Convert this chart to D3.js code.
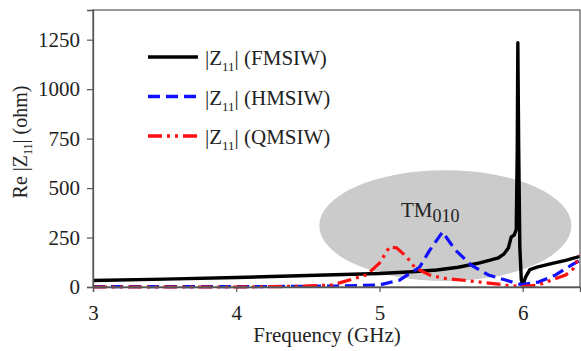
<!DOCTYPE html>
<html>
<head>
<meta charset="utf-8">
<script src="https://cdn.jsdelivr.net/npm/d3@7"></script>
<style>
  html, body { margin: 0; padding: 0; background: #fff; }
  svg { display: block; }
  svg text { font-family: "Liberation Serif", "Times New Roman", Tinos, "DejaVu Serif", serif !important; fill: #222; }
</style>
</head>
<body>
<svg id="chart" width="581" height="351"></svg>
<script>
// Frequency (GHz) and Re|Z11| (ohm) for the three cavity variants
const fmsiwFreq = [3.0, 3.5, 4.0, 4.5, 5.0, 5.2, 5.4, 5.55, 5.7, 5.78, 5.83, 5.87, 5.9, 5.92, 5.94, 5.955, 5.962, 5.966, 5.972, 5.98, 5.99, 6.0, 6.02, 6.05, 6.1, 6.2, 6.3, 6.4];
const fmsiwZ    = [33, 40, 48, 58, 68, 76, 86, 100, 122, 137, 147, 168, 197, 253, 262, 290, 700, 1235, 700, 200, 40, 2, 50, 88, 100, 118, 135, 155];

const hmsiwFreq = [3.0, 4.0, 4.5, 4.7, 5.0, 5.14, 5.28, 5.35, 5.44, 5.53, 5.64, 5.76, 5.88, 5.99, 6.11, 6.23, 6.34, 6.4];
const hmsiwZ    = [2, 2, 3, 5, 10, 35, 100, 185, 278, 187, 111, 61, 35, 12, 25, 61, 111, 135];

const qmsiwFreq = [3.0, 4.0, 4.4, 4.67, 4.91, 5.0, 5.07, 5.12, 5.19, 5.25, 5.35, 5.44, 5.64, 5.88, 6.0, 6.11, 6.3, 6.35, 6.4];
const qmsiwZ    = [0, 0, 3, 10, 61, 121, 203, 198, 152, 96, 61, 45, 30, 10, 2, 10, 61, 90, 160];

const seriesNames = ["FMSIW", "HMSIW", "QMSIW"];
const xTicks = [3, 4, 5, 6];
const yTicks = [0, 250, 500, 750, 1000, 1250];

// Shaded region marking the TM010 resonance: centre (GHz, ohm) and half-extents
const modeCentre = [5.46, 310];
const modeHalf = [0.88, 280];
const modeLabel = "TM";
const modeSub = "010";

const FONT = "'Liberation Serif', 'Times New Roman', Tinos, 'DejaVu Serif', serif";

const svg = d3.select("#chart");
const margin = { left: 93, top: 10, right: 1, bottom: 64 };
const W = 581, H = 351;

const x = d3.scaleLinear().domain([3, 6.4]).range([margin.left, W - margin.right]);
const y = d3.scaleLinear().domain([0, 1400]).range([H - margin.bottom, margin.top]);

svg.append("defs").append("clipPath").attr("id", "plot")
  .append("rect")
  .attr("x", x(3)).attr("y", y(1400))
  .attr("width", x(6.4) - x(3)).attr("height", y(0) - y(1400) + 3);

const plot = svg.append("g").attr("clip-path", "url(#plot)");

// TM010 ellipse
plot.append("ellipse")
  .attr("cx", x(modeCentre[0]))
  .attr("cy", y(modeCentre[1]))
  .attr("rx", x(modeCentre[0] + modeHalf[0]) - x(modeCentre[0]))
  .attr("ry", y(0) - y(modeHalf[1]))
  .attr("fill", "#cbcbcb");

const tm = svg.append("text")
  .attr("x", 401).attr("y", 217)
  .attr("font-family", FONT)
  .attr("font-size", 21);
tm.append("tspan").text(modeLabel);
tm.append("tspan").attr("font-size", 18).attr("dy", 5).text(modeSub);

const line = d3.line().x(d => x(d[0])).y(d => y(d[1]));

const series = [
  { f: fmsiwFreq, z: fmsiwZ, color: "#000", dash: null, width: 3.4 },
  { f: hmsiwFreq, z: hmsiwZ, color: "#1010ff", dash: "12,6", width: 3.2 },
  { f: qmsiwFreq, z: qmsiwZ, color: "#ff1010", dash: "14,5,3,5,3,5", width: 3.2 }
];

series.forEach(s => {
  plot.append("path")
    .datum(d3.zip(s.f, s.z))
    .attr("d", line)
    .attr("fill", "none")
    .attr("stroke", s.color)
    .attr("stroke-width", s.width)
    .attr("stroke-dasharray", s.dash)
    .attr("stroke-linejoin", "round");
});

// Frame
svg.append("rect")
  .attr("x", x(3)).attr("y", y(1400))
  .attr("width", x(6.4) - x(3)).attr("height", y(0) - y(1400))
  .attr("fill", "none").attr("stroke", "#666").attr("stroke-width", 1.3);

// Axes
const yAxis = svg.append("g")
  .attr("transform", `translate(${x(3)},0)`)
  .call(d3.axisLeft(y).tickValues(yTicks).tickFormat(d3.format("d")).tickSize(6).tickPadding(7));
const xAxis = svg.append("g")
  .attr("transform", `translate(0,${y(0)})`)
  .call(d3.axisBottom(x).tickValues(xTicks).tickFormat(d3.format("d")).tickSize(5).tickPadding(13));

[yAxis, xAxis].forEach(a => {
  a.attr("font-family", FONT).attr("font-size", 21);
  a.select(".domain").attr("stroke", "#555").attr("stroke-width", 1.3);
  a.selectAll(".tick line").attr("stroke", "#555").attr("stroke-width", 1.2);
  a.selectAll(".tick text").attr("fill", "#222");
});

// Axis titles
svg.append("text")
  .attr("x", 327).attr("y", 342)
  .attr("text-anchor", "middle")
  .attr("font-family", FONT)
  .attr("font-size", 21)
  .text("Frequency (GHz)");

const yt = svg.append("text")
  .attr("transform", "translate(27,142) rotate(-90)")
  .attr("text-anchor", "middle")
  .attr("font-family", FONT)
  .attr("font-size", 20);
yt.append("tspan").text("Re |Z");
yt.append("tspan").attr("font-size", 12).attr("dy", 5).text("11");
yt.append("tspan").attr("dy", -5).text("| (ohm)");

// Legend
const legend = svg.append("g");
series.forEach((s, i) => {
  const ly = 57 + i * 39.5;
  legend.append("line")
    .attr("x1", 148).attr("x2", 198)
    .attr("y1", ly).attr("y2", ly)
    .attr("stroke", s.color).attr("stroke-width", 3.4)
    .attr("stroke-dasharray", s.dash);
  const t = legend.append("text")
    .attr("x", 205).attr("y", ly + 8)
    .attr("font-family", FONT)
    .attr("font-size", 21);
  t.append("tspan").text("|Z");
  t.append("tspan").attr("font-size", 13).attr("dy", 6).text("11");
  t.append("tspan").attr("dy", -6).text("| (" + seriesNames[i] + ")");
});
</script>
</body>
</html>
